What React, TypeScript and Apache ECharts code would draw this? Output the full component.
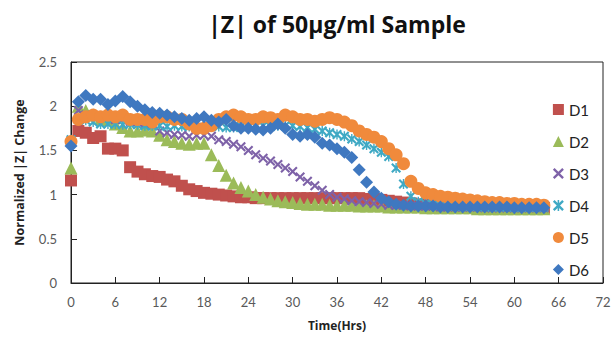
import React, { useEffect, useRef } from "react";
import * as echarts from "echarts";

const hours = [0,1,2,3,4,5,6,7,8,9,10,11,12,13,14,15,16,17,18,19,20,21,22,23,24,25,26,27,28,29,30,31,32,33,34,35,36,37,38,39,40,41,42,43,44,45,46,47,48,49,50,51,52,53,54,55,56,57,58,59,60,61,62,63,64];

const d1 = [1.16,1.72,1.7,1.64,1.66,1.52,1.52,1.5,1.31,1.26,1.23,1.21,1.2,1.17,1.15,1.1,1.06,1.04,1.02,1.01,1.0,0.99,0.98,0.97,0.97,0.96,0.96,0.96,0.96,0.96,0.96,0.96,0.96,0.96,0.96,0.96,0.96,0.96,0.96,0.96,0.95,0.95,0.94,0.93,0.92,0.91,0.9,0.89,0.88,0.88,0.87,0.87,0.87,0.86,0.86,0.86,0.86,0.86,0.85,0.85,0.85,0.85,0.85,0.85,0.85];
const d2 = [1.3,2.0,1.95,1.9,1.86,1.85,1.8,1.76,1.72,1.72,1.73,1.72,1.67,1.62,1.6,1.58,1.57,1.58,1.58,1.45,1.33,1.22,1.13,1.08,1.04,1.0,0.97,0.95,0.93,0.92,0.91,0.9,0.89,0.89,0.89,0.88,0.88,0.88,0.88,0.87,0.87,0.87,0.87,0.86,0.86,0.86,0.86,0.86,0.85,0.85,0.85,0.85,0.85,0.85,0.85,0.84,0.84,0.84,0.84,0.84,0.84,0.84,0.84,0.84,0.84];
const d3 = [1.6,1.95,1.9,1.9,1.88,1.88,1.85,1.85,1.83,1.82,1.8,1.78,1.72,1.7,1.68,1.67,1.66,1.67,1.67,1.66,1.62,1.6,1.57,1.54,1.5,1.45,1.41,1.38,1.34,1.3,1.26,1.2,1.15,1.1,1.05,1.0,0.97,0.95,0.93,0.92,0.91,0.9,0.89,0.88,0.88,0.88,0.87,0.87,0.87,0.87,0.86,0.86,0.86,0.86,0.86,0.86,0.85,0.85,0.85,0.85,0.85,0.85,0.85,0.85,0.85];
const d4 = [1.62,1.85,1.84,1.82,1.8,1.8,1.8,1.79,1.8,1.79,1.78,1.78,1.78,1.77,1.78,1.77,1.77,1.76,1.76,1.77,1.77,1.76,1.76,1.77,1.77,1.77,1.78,1.77,1.78,1.78,1.78,1.77,1.76,1.74,1.72,1.7,1.68,1.66,1.63,1.6,1.56,1.52,1.48,1.43,1.3,1.12,0.98,0.92,0.9,0.89,0.88,0.88,0.87,0.87,0.87,0.87,0.86,0.86,0.86,0.86,0.86,0.86,0.86,0.86,0.86];
const d5 = [1.6,1.85,1.88,1.9,1.88,1.9,1.88,1.9,1.85,1.85,1.85,1.82,1.88,1.88,1.85,1.85,1.8,1.75,1.75,1.78,1.85,1.88,1.9,1.88,1.85,1.85,1.88,1.87,1.85,1.9,1.88,1.85,1.85,1.83,1.85,1.87,1.85,1.82,1.78,1.72,1.68,1.65,1.6,1.52,1.45,1.35,1.15,1.07,1.02,1.0,0.98,0.97,0.96,0.95,0.94,0.93,0.92,0.91,0.91,0.9,0.9,0.89,0.89,0.89,0.88];
const d6 = [1.55,2.05,2.12,2.08,2.08,2.02,2.06,2.11,2.05,2.0,1.96,1.93,1.92,1.9,1.88,1.86,1.84,1.86,1.88,1.84,1.82,1.85,1.78,1.75,1.75,1.74,1.73,1.75,1.8,1.75,1.68,1.66,1.68,1.65,1.58,1.56,1.52,1.48,1.42,1.28,1.14,1.03,0.96,0.92,0.89,0.88,0.87,0.87,0.87,0.87,0.86,0.86,0.86,0.86,0.86,0.86,0.86,0.86,0.86,0.86,0.85,0.85,0.85,0.85,0.85];

const seriesNames = ["D1", "D2", "D3", "D4", "D5", "D6"];
const seriesValues = [d1, d2, d3, d4, d5, d6];
const xTicks = { min: 0, max: 72, interval: 6 };
const yTicks = { min: 0, max: 2.5, interval: 0.5 };

const X_SHAPE = "M0,1.5 L1.5,0 L5,3.5 L8.5,0 L10,1.5 L6.5,5 L10,8.5 L8.5,10 L5,6.5 L1.5,10 L0,8.5 L3.5,5 Z";
const STAR_SHAPE = X_SHAPE + " M4.3,0 L5.7,0 L5.7,10 L4.3,10 Z";

const styles = [
  { symbol: "rect", size: 12, color: "#C0504D" },
  { symbol: "triangle", size: 13, color: "#9BBB59" },
  { symbol: "path://" + X_SHAPE, size: 10, color: "#7E62A8" },
  { symbol: "path://" + STAR_SHAPE, size: 10, color: "#3FA9C4" },
  { symbol: "circle", size: 13, color: "#F08A3C" },
  { symbol: "diamond", size: 13, color: "#3F78C0" },
];

const FONT = "Lato, 'Open Sans', sans-serif";
const BOLD_FONT = "'Open Sans', sans-serif";

export default function App() {
  const ref = useRef<HTMLDivElement>(null);
  useEffect(() => {
    if (!ref.current) return;
    const chart = echarts.init(ref.current, undefined, { renderer: "svg" });
    chart.setOption({
      animation: false,
      backgroundColor: "#fff",
      textStyle: { fontFamily: FONT },
      graphic: [
        {
          type: "text",
          x: 337,
          y: 24,
          style: {
            text: "|Z| of 50μg/ml Sample",
            fontFamily: BOLD_FONT,
            fontSize: 23,
            fontWeight: "bold",
            fill: "#111",
            textAlign: "center",
            textVerticalAlign: "middle",
          },
        },
      ],
      grid: {
        left: 71,
        right: 12,
        top: 62,
        bottom: 65,
        show: true,
        borderColor: "#222",
        borderWidth: 1,
        containLabel: false,
      },
      legend: {
        orient: "vertical",
        right: 21,
        top: 97,
        itemWidth: 11,
        itemHeight: 11,
        itemGap: 17,
        textStyle: { fontFamily: FONT, fontSize: 15, color: "#222" },
        data: seriesNames,
      },
      xAxis: {
        type: "value",
        min: xTicks.min,
        max: xTicks.max,
        interval: xTicks.interval,
        name: "Time(Hrs)",
        nameLocation: "middle",
        nameGap: 36,
        nameTextStyle: { fontFamily: BOLD_FONT, fontSize: 12, fontWeight: "bold", color: "#222" },
        axisLine: { lineStyle: { color: "#222", width: 1 } },
        axisTick: { inside: true, length: 6, lineStyle: { color: "#222" } },
        axisLabel: { color: "#595959", fontSize: 13, margin: 12, fontFamily: FONT },
        splitLine: { show: false },
      },
      yAxis: {
        type: "value",
        min: yTicks.min,
        max: yTicks.max,
        interval: yTicks.interval,
        name: "Normalized |Z| Change",
        nameLocation: "middle",
        nameGap: 45,
        nameTextStyle: { fontFamily: BOLD_FONT, fontSize: 12.5, fontWeight: "bold", color: "#222" },
        axisLine: { show: true, lineStyle: { color: "#222", width: 1 } },
        axisTick: { show: true, inside: true, length: 6, lineStyle: { color: "#222" } },
        axisLabel: { color: "#595959", fontSize: 13, margin: 14, fontFamily: FONT },
        splitLine: { show: false },
      },
      series: seriesNames.map((name, k) => ({
        name,
        type: "scatter",
        symbol: styles[k].symbol,
        symbolSize: styles[k].size,
        itemStyle: { color: styles[k].color, opacity: 1 },
        data: hours.map((h, i) => [h, seriesValues[k][i]]),
        z: 2 + k,
      })),
    });
    return () => chart.dispose();
  }, []);
  return (
    <div
      ref={ref}
      style={{ position: "fixed", left: 0, top: 0, width: 615, height: 348 }}
    />
  );
}
